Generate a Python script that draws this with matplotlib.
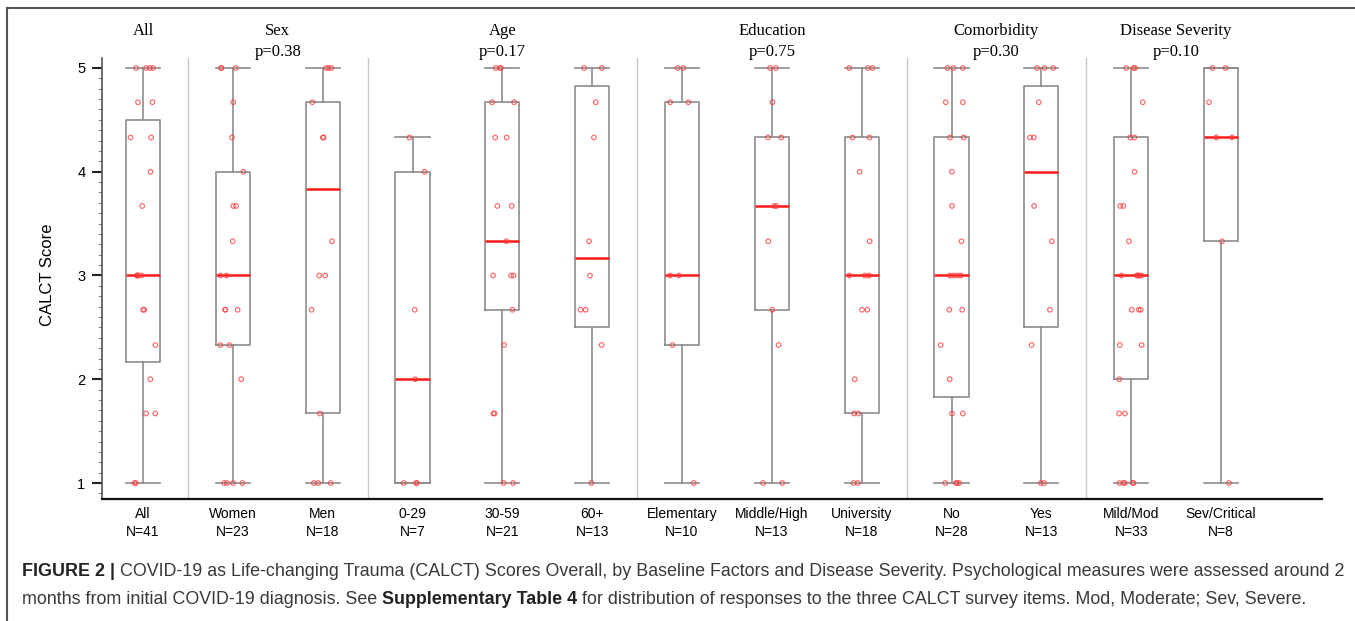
import numpy as np
import matplotlib
matplotlib.use('Agg')
from matplotlib import pyplot as plt
from matplotlib.lines import Line2D
from matplotlib.ticker import MultipleLocator

W, H = 1355, 621

groups = ['All', 'Women', 'Men', '0-29', '30-59', '60+', 'Elementary', 'Middle/High',
          'University', 'No', 'Yes', 'Mild/Mod', 'Sev/Critical']
n_obs = [41, 23, 18, 7, 21, 13, 10, 13, 18, 28, 13, 33, 8]

# box statistics
whis_lo = [1, 1, 1, 1, 1, 1, 1, 1, 1, 1, 1, 1, 1]
q1 = [2.17, 2.33, 1.67, 1, 2.67, 2.5, 2.33, 2.67, 1.67, 1.83, 2.5, 2.0, 3.33]
med = [3, 3, 3.83, 2, 3.33, 3.17, 3, 3.67, 3, 3, 4, 3, 4.33]
q3 = [4.5, 4, 4.67, 4, 4.67, 4.83, 4.67, 4.33, 4.33, 4.33, 4.83, 4.33, 5]
whis_hi = [5, 5, 5, 4.33, 5, 5, 5, 5, 5, 5, 5, 5, 5]

# individual scores (visible points)
s_all = [5, 5, 5, 5, 4.67, 4.67, 4.33, 4.33, 4, 3.67, 3, 3, 3, 3, 2.67, 2.67, 2.33, 2, 1.67, 1.67, 1, 1]
s_women = [5, 5, 5, 4.67, 4.33, 4, 3.67, 3.67, 3.33, 3, 3, 2.67, 2.67, 2.67, 2.33, 2.33, 2, 1, 1, 1, 1]
s_men = [5, 5, 5, 4.67, 4.33, 4.33, 3.33, 3, 3, 2.67, 1.67, 1, 1, 1]
s_age1 = [4.33, 4, 2.67, 2, 1, 1, 1]
s_age2 = [5, 5, 5, 4.67, 4.67, 4.33, 4.33, 3.67, 3.67, 3.33, 3, 3, 3, 2.67, 2.33, 1.67, 1.67, 1, 1]
s_age3 = [5, 5, 4.67, 4.33, 3.33, 3, 2.67, 2.67, 2.33, 1]
s_edu1 = [5, 5, 4.67, 4.67, 3, 3, 2.33, 1]
s_edu2 = [5, 5, 4.67, 4.33, 4.33, 3.67, 3.67, 3.33, 2.67, 2.33, 1, 1]
s_edu3 = [5, 5, 5, 4.33, 4.33, 4, 3.33, 3, 3, 3, 2.67, 2.67, 2, 1.67, 1.67, 1, 1]
s_cno = [5, 5, 5, 4.67, 4.67, 4.33, 4.33, 4, 3.67, 3.33, 3, 3, 3, 3, 2.67, 2.67, 2.33, 2, 1.67, 1.67, 1, 1, 1, 1]
s_cyes = [5, 5, 5, 4.67, 4.33, 4.33, 3.67, 3.33, 2.67, 2.33, 1, 1]
s_mild = [5, 5, 5, 4.67, 4.33, 4.33, 4, 3.67, 3.67, 3.33, 3, 3, 3, 3, 3, 2.67, 2.67, 2.67,
          2.33, 2.33, 2, 1.67, 1.67, 1, 1, 1, 1, 1]
s_sev = [5, 5, 4.67, 4.33, 4.33, 3.33, 1]
scores = [s_all, s_women, s_men, s_age1, s_age2, s_age3, s_edu1, s_edu2, s_edu3,
          s_cno, s_cyes, s_mild, s_sev]

headers = ['All', 'Sex', 'Age', 'Education', 'Comorbidity', 'Disease Severity']
pvals = ['', 'p=0.38', 'p=0.17', 'p=0.75', 'p=0.30', 'p=0.10']
header_size = [1, 2, 3, 3, 2, 2]

fig = plt.figure(figsize=(W / 100, H / 100), dpi=100)
ax = fig.add_axes([102 / W, 1 - 499 / H, (1322 - 102) / W, (499 - 58) / H])

pos = np.arange(1, len(groups) + 1)
stats = []
for i in range(len(groups)):
    stats.append(dict(med=med[i], q1=q1[i], q3=q3[i], whislo=whis_lo[i], whishi=whis_hi[i], fliers=[]))

grey = '#8c8c8c'
ax.bxp(stats, positions=pos, widths=0.38, capwidths=0.38, showfliers=False,
       boxprops=dict(color=grey, lw=1.2),
       whiskerprops=dict(color=grey, lw=1.2),
       capprops=dict(color=grey, lw=1.2),
       medianprops=dict(color='#ff1a1a', lw=1.8))

rng = np.random.default_rng(7)
for i, vals in enumerate(scores):
    xs = pos[i] + rng.uniform(-0.14, 0.14, len(vals))
    ax.scatter(xs, vals, s=11, facecolors='none', edgecolors='#ff3b3b', linewidths=0.8,
               alpha=0.8, zorder=4)

# group separators and headers
edges = np.cumsum(header_size)
for e in edges[:-1]:
    ax.axvline(e + 0.5, color='#c8c8c8', lw=1.0, zorder=0)

ax.set_xlim(0.5436, 14.124)
ax.set_ylim(0.846, 5.096)

start = 0
for h, p, k in zip(headers, pvals, header_size):
    cx = pos[start:start + k].mean()
    xf = ax.transData.transform((cx, 0))[0] / W
    fig.text(xf, 1 - 31 / H, h, ha='center', va='center', family='Liberation Serif', fontsize=12)
    if p:
        fig.text(xf, 1 - 52 / H, p, ha='center', va='center', family='Liberation Serif', fontsize=12)
    start += k

ax.set_xticks(pos)
ax.set_xticklabels([f'{g}\nN={n}' for g, n in zip(groups, n_obs)],
                   family='Liberation Sans', fontsize=10, linespacing=1.3)
ax.tick_params(axis='x', length=0, pad=6)
ax.set_yticks([1, 2, 3, 4, 5])
ax.yaxis.set_minor_locator(MultipleLocator(0.1))
ax.tick_params(axis='y', which='major', length=7, width=1.5, color='#222', pad=5,
               labelsize=10.5, labelfontfamily='Liberation Sans')
ax.tick_params(axis='y', which='minor', length=3, width=0.8, color='#888')
for sp in ['top', 'right']:
    ax.spines[sp].set_visible(False)
ax.spines['left'].set_color('#555')
ax.spines['left'].set_linewidth(1.2)
ax.spines['bottom'].set_color('#111')
ax.spines['bottom'].set_linewidth(1.6)

fig.text(48 / W, 1 - 275 / H, 'CALCT Score', rotation=90, ha='center', va='center',
         family='Liberation Sans', fontsize=12)

# outer frame
fig.add_artist(Line2D([7 / W, 7 / W], [0, 1 - 8 / H], transform=fig.transFigure, color='#555', lw=1.5))
fig.add_artist(Line2D([7 / W, 1], [1 - 8 / H, 1 - 8 / H], transform=fig.transFigure, color='#555', lw=1.5))

# caption
cap_font = ['Liberation Sans Narrow', 'Liberation Sans', 'DejaVu Sans']
line1 = [('FIGURE 2 |', True),
         ('COVID-19 as Life-changing Trauma (CALCT) Scores Overall, by Baseline Factors and Disease Severity. '
          'Psychological measures were assessed around 2', False)]
line2 = [('months from initial COVID-19 diagnosis. See', False),
         ('Supplementary Table 4', True),
         ('for distribution of responses to the three CALCT survey items. Mod, Moderate; Sev, Severe.', False)]
renderer = fig.canvas.get_renderer()


def put_line(pieces, y, size):
    x = 22.0
    arts = []
    for txt, bold in pieces:
        t = fig.text(x / W, y, txt, fontsize=size, family=cap_font,
                     fontweight='bold' if bold else 'normal',
                     color='#222' if bold else '#3a3a3a', ha='left', va='center')
        bb = t.get_window_extent(renderer)
        x = bb.x1 + 0.278 * size * 100 / 72
        arts.append(t)
    return arts, bb.x1 - 22


arts, w = put_line(line1, 1 - 572 / H, 12)
for a in arts:
    a.remove()
size = 12 * 1323 / w
put_line(line1, 1 - 572 / H, size)
put_line(line2, 1 - 599 / H, size)

fig.savefig('out.png', dpi=100)
